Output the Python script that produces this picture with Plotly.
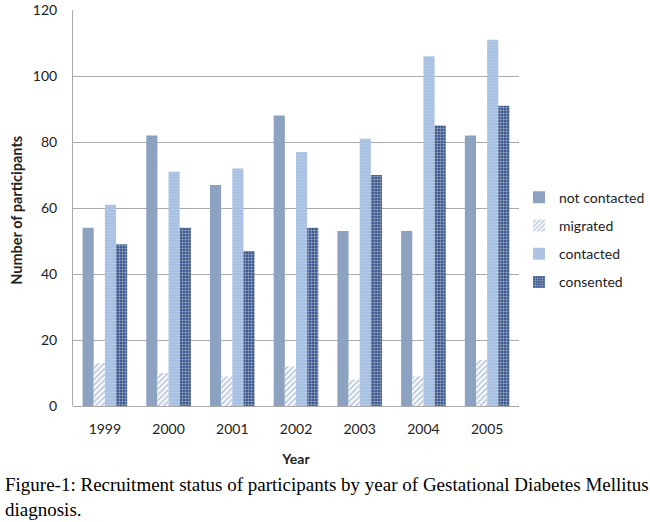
import plotly.graph_objects as go

years = ['1999', '2000', '2001', '2002', '2003', '2004', '2005']
not_contacted = [54, 82, 67, 88, 53, 53, 82]
migrated = [13, 10, 9, 12, 8, 9, 14]
contacted = [61, 71, 72, 77, 81, 106, 111]
consented = [49, 54, 47, 54, 70, 85, 91]
y_ticks = [0, 20, 40, 60, 80, 100, 120]

fig = go.Figure()

fig.add_trace(go.Bar(x=years, y=not_contacted, name='not contacted', legendgroup='a',
                     marker=dict(color='#8DA2C0', line=dict(width=0))))
fig.add_trace(go.Bar(x=years, y=migrated, name='migrated', legendgroup='b',
                     marker=dict(color='white', line=dict(width=0),
                                 pattern=dict(shape='/', fgcolor='#7F97BE', bgcolor='white',
                                              size=4, solidity=0.5))))
fig.add_trace(go.Bar(x=years, y=contacted, name='contacted', legendgroup='c',
                     marker=dict(color='#A8C0E2', line=dict(width=0),
                                 pattern=dict(shape='-', fgcolor='#C2D3EC', bgcolor='#A8C0E2',
                                              size=3, solidity=0.3))))
fig.add_trace(go.Bar(x=years, y=consented, name='consented', legendgroup='d',
                     marker=dict(color='#24437F', line=dict(width=0),
                                 pattern=dict(shape='.', fgcolor='white', bgcolor='#24437F',
                                              size=3, solidity=0.5))))

fig.update_layout(
    width=650, height=522,
    margin=dict(l=73, r=131, t=10, b=116, autoexpand=False),
    paper_bgcolor='white', plot_bgcolor='white',
    barmode='group', bargap=0.3, bargroupgap=0,
    font=dict(family='Lato', size=14, color='#222222'),
    legend=dict(x=1.0, y=0.42, yanchor='middle', xanchor='left',
                font=dict(family='Lato', size=14, color='#222222'),
                tracegroupgap=7, itemwidth=30),
    showlegend=True,
)

fig.update_xaxes(
    automargin=False,
    showline=False, showgrid=False, ticks='',
    ticklabelstandoff=13, tickfont=dict(size=14),
    title=dict(text='<b>Year</b>', font=dict(size=14), standoff=18),
)
fig.update_yaxes(
    automargin=False,
    range=[0, 120], tickvals=y_ticks,
    showline=True, linecolor='#AAAAAA', linewidth=1,
    showgrid=True, gridcolor='#AAAAAA', gridwidth=1,
    zeroline=True, zerolinecolor='#AAAAAA', zerolinewidth=1,
    ticks='', ticklabelstandoff=12, tickfont=dict(size=14),
)

# y title as annotation so it sits where the original has it
fig.add_annotation(text='<b>Number of participants</b>', textangle=-90,
                   xref='paper', yref='paper', x=-0.126, y=0.495, xanchor='center', yanchor='middle',
                   showarrow=False, font=dict(family='Lato', size=14.5, color='#222222'))

# caption below the chart
fig.add_annotation(text='Figure-1: Recruitment status of participants by year of Gestational Diabetes Mellitus<br>diagnosis.',
                   xref='paper', yref='paper', x=-0.157, y=-0.166, xanchor='left', yanchor='top',
                   showarrow=False, align='left',
                   font=dict(family='Liberation Serif', size=19, color='black'))

# page body has an 8px default margin, drop it so the figure sits at 0,0
fig.write_html("out.html", config={'displayModeBar': False},
               post_script="document.body.style.margin='0px';")
